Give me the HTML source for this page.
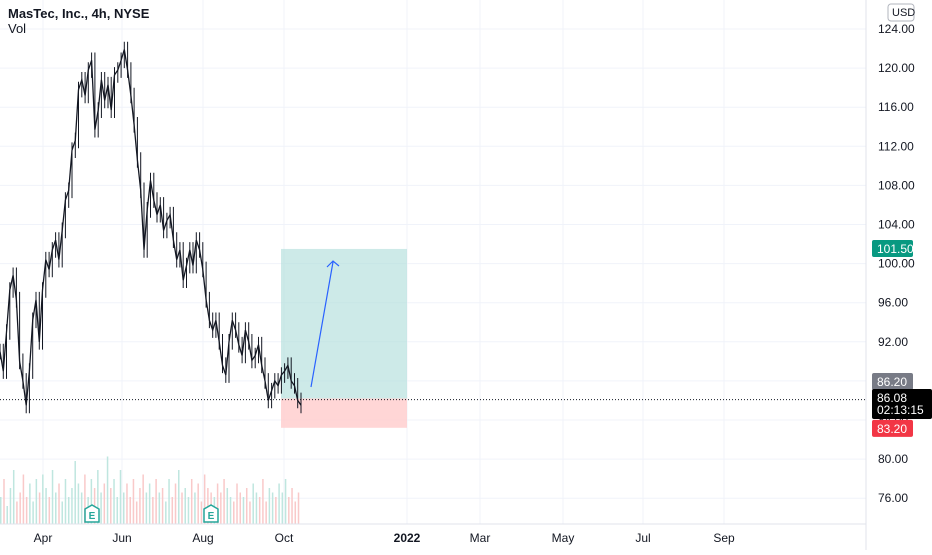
<!DOCTYPE html>
<html><head><meta charset="utf-8">
<style>
body{margin:0;width:932px;height:550px;overflow:hidden;background:#fff;font-family:"Liberation Sans",sans-serif}
svg text{font-family:"Liberation Sans",sans-serif}
</style></head>
<body>
<svg id="chart" width="932" height="550" xmlns="http://www.w3.org/2000/svg">
<g id="grid"></g>
<g id="vol"></g>
<g id="trade"></g>
<g id="price"></g>
<g id="axis"></g>
<text x="8" y="18" font-size="13" font-weight="bold" fill="#131722">MasTec, Inc., 4h, NYSE</text>
<text x="8" y="33" font-size="13" fill="#131722">Vol</text>
</svg>
<script>
const priceTicks=[76,80,84,88,92,96,100,104,108,112,116,120,124];
const monthLabels=["Apr","Jun","Aug","Oct","2022","Mar","May","Jul","Sep"];
const monthX=[43,122,203,284,407,480,563,643,724];
const closes=[91,89,93,97.3,98.8,96.3,90,88,85.5,89,94.2,96.3,92,97.3,100.4,99.4,101.4,102.4,100.4,103.4,106.5,107.5,111.6,112.6,117.8,118.8,117.2,119.8,120.8,113.7,115.7,118.8,116.7,118.3,115.7,119.3,119.8,120.8,121.9,119.8,117.2,114.2,110.6,107.5,101.4,105.5,108.5,106.5,105,106,103.4,104.4,105,102.4,100.4,101.4,98.3,99.8,101.4,99.8,102.4,101.4,99.4,96.3,94.2,93.2,94.2,92,89.6,88.6,92,94.2,93.2,91.7,90.6,93.2,92,90.1,90.6,91.7,89.6,88,86,87,88,87.5,88.6,89,89.6,88,87.5,86,85.5];
const volumes=[30,50,20,40,60,25,35,55,30,45,25,50,35,55,40,30,60,35,45,25,50,30,40,70,45,35,55,30,50,40,60,35,45,75,40,50,30,60,35,45,30,50,25,40,55,35,45,30,50,35,40,25,50,30,45,60,35,40,30,50,35,45,25,55,40,35,30,45,35,50,40,30,25,45,35,30,40,25,45,35,30,50,25,40,35,30,45,35,50,30,40,25,35];
const entry=86.2, target=101.5, stop=83.2, last=86.08;
const NS="http://www.w3.org/2000/svg";
const plotW=866;
const y=p=>29+(124-p)*9.775;
const x=i=>i*(301/(closes.length-1));
function el(t,a,parent){const e=document.createElementNS(NS,t);for(const k in a)e.setAttribute(k,a[k]);parent.appendChild(e);return e;}
const grid=document.getElementById('grid'),axis=document.getElementById('axis'),price=document.getElementById('price'),vol=document.getElementById('vol'),trade=document.getElementById('trade');
priceTicks.forEach(p=>{
 const l=el('line',{x1:0,x2:plotW,y1:y(p),y2:y(p),stroke:'#f0f3fa'},grid);
 
 
 const t=el('text',{x:878,y:y(p)+4,'font-size':12,fill:'#131722'},axis);t.textContent=p.toFixed(2);
 
 
});
monthLabels.forEach((m,i)=>{
 const l=el('line',{x1:monthX[i],x2:monthX[i],y1:0,y2:524,stroke:'#f0f3fa'},grid);
 
 
 const t=el('text',{x:monthX[i],y:542,'font-size':12,fill:'#131722','text-anchor':'middle','font-weight':m==='2022'?'bold':'normal'},axis);t.textContent=m;
 
 
});
el('line',{x1:plotW,x2:plotW,y1:0,y2:550,stroke:'#e0e3eb'},axis);
el('line',{x1:0,x2:plotW,y1:524,y2:524,stroke:'#e0e3eb'},axis);
const vmax=100;
volumes.forEach((v,i)=>{
 const h=v/vmax*90;const up=i===0||closes[Math.min(i,closes.length-1)]>=closes[Math.max(i-1,0)];
 const r=el('rect',{x:i*(301/volumes.length),y:524-h,width:1.5,height:h,fill:up?'#bfe6df':'#f9c9c9'},vol);
 
 
});
const tb=el('rect',{x:281,y:y(target),width:126,height:y(entry)-y(target),fill:'#b2dfdb',opacity:0.65},trade);


const sb=el('rect',{x:281,y:y(entry),width:126,height:y(stop)-y(entry),fill:'#fcc',opacity:0.8},trade);


const ar=el('path',{d:'M311 387 L333 262 M327 267 L333 261 L339 266',stroke:'#2962ff',fill:'none','stroke-width':1.2},trade);


let d='';
closes.forEach((c,i)=>{
 const prev=i?closes[i-1]:c;
 const hi=Math.max(c,prev)+0.8,lo=Math.min(c,prev)-0.8;
 d+=`M${x(i).toFixed(1)} ${y(hi).toFixed(1)} V${y(lo).toFixed(1)} `;
});
const w=el('path',{d:d,stroke:'#131722','stroke-width':1},price);


const pl=el('polyline',{points:closes.map((c,i)=>x(i).toFixed(1)+','+y(c).toFixed(1)).join(' '),fill:'none',stroke:'#131722','stroke-width':1.3},price);


const ll=el('line',{x1:0,x2:plotW,y1:y(last),y2:y(last),stroke:'#131722','stroke-dasharray':'1 2'},price);


[92,211].forEach(ex=>{
 const g=el('g',{},price);
 
 
 el('path',{d:`M${ex-7} 509 L${ex} 505 L${ex+7} 509 V522 H${ex-7} Z`,fill:'#fff',stroke:'#26a69a','stroke-width':1.5},g);
 const t=el('text',{x:ex,y:519,'font-size':10,fill:'#26a69a','text-anchor':'middle','font-weight':'bold'},g);t.textContent='E';
});
function tag(py,txt,bg,name,h){
 const g=el('g',{},axis);
 
 
 el('rect',{x:872,y:py-9,width:41,height:h||17,rx:2,fill:bg},g);
 const t=el('text',{x:877,y:py+4,'font-size':12,fill:'#fff'},g);t.textContent=txt;
 return g;
}
tag(y(target),'101.50','#089981','target-price-tag');
tag(382,'86.20','#787b86','entry-price-tag');
const lg=tag(398,'86.08','#000','last-price-tag',30);
lg.querySelector('rect').setAttribute('width',60);
const t2=el('text',{x:877,y:414,'font-size':12,fill:'#fff'},lg);t2.textContent='02:13:15';
tag(y(stop)+1,'83.20','#f23645','stop-price-tag');
const u=el('g',{},axis);


el('rect',{x:888,y:4,width:26,height:17,rx:3,fill:'#fff',stroke:'#b2b5be'},u);
const ut=el('text',{x:892,y:16,'font-size':11,fill:'#131722'},u);ut.textContent='USD';
</script>
</body></html>
